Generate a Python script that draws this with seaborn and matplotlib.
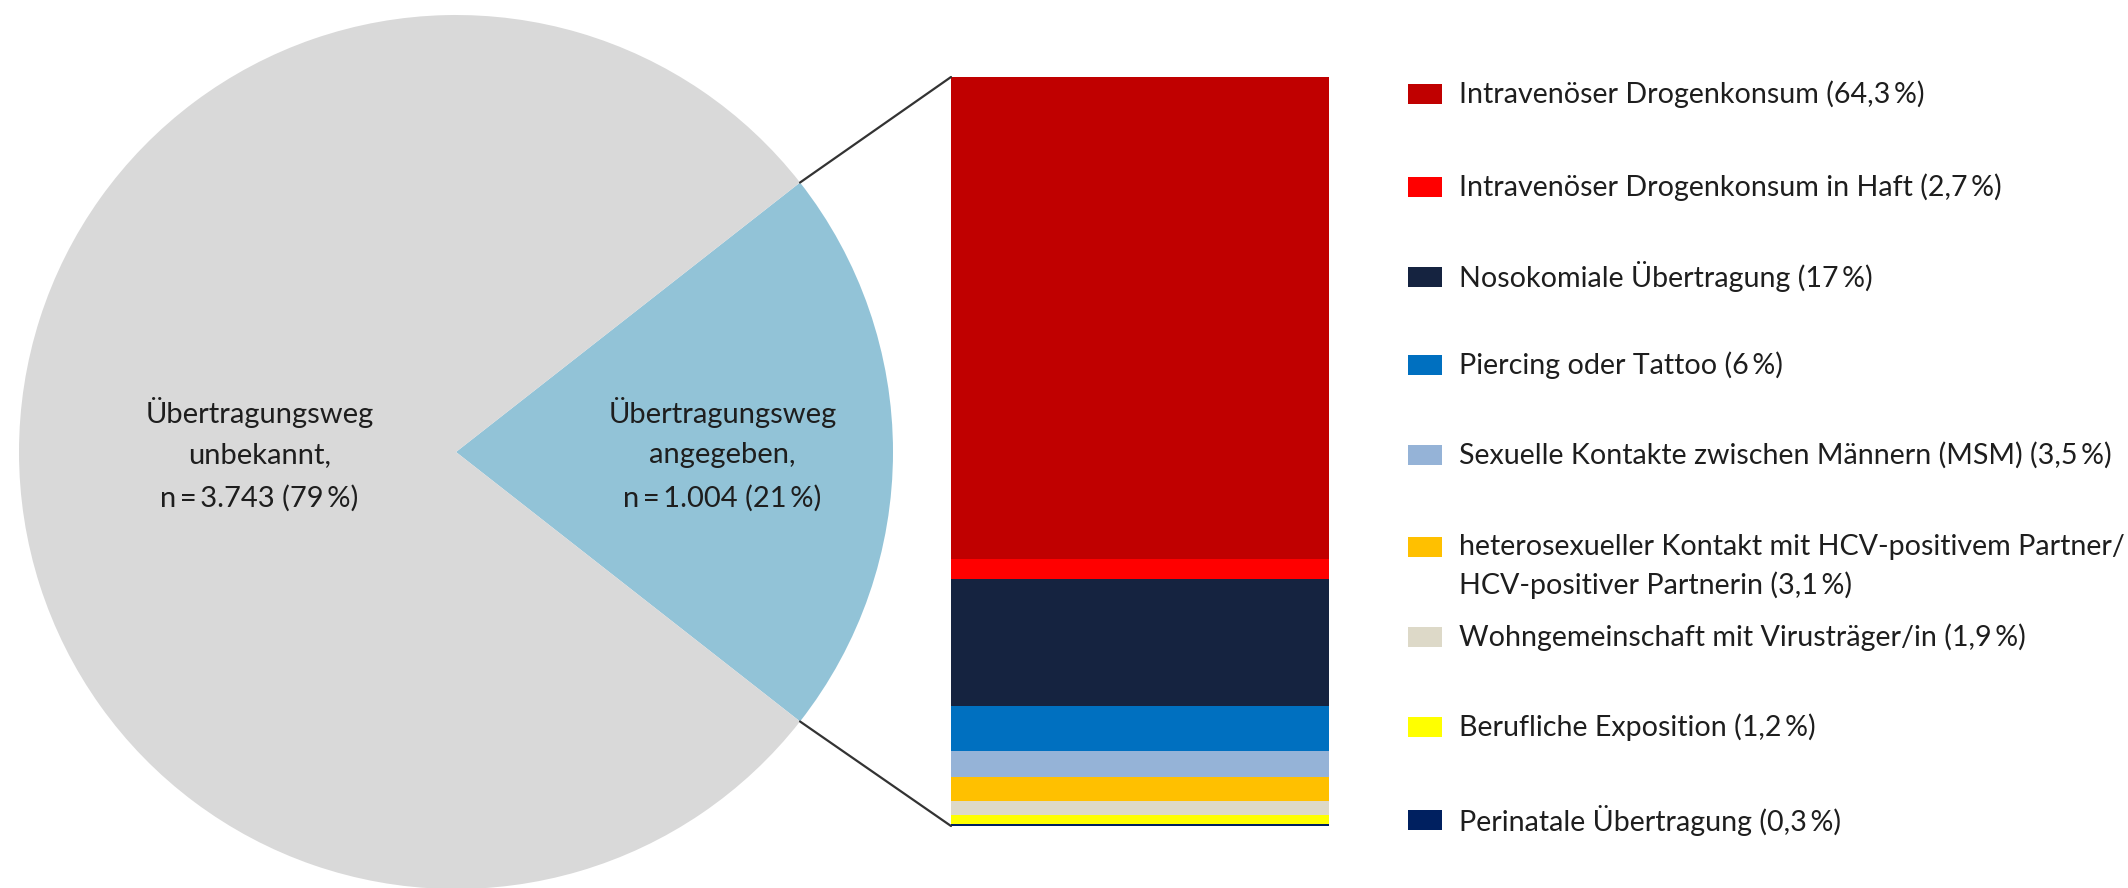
import matplotlib
matplotlib.use("Agg")
import numpy as np
import pandas as pd
import matplotlib.pyplot as plt
from matplotlib.patches import Rectangle, ConnectionPatch
import seaborn as sns

# Overall split of reported cases by whether the route of transmission is known
split_names = ["angegeben", "unbekannt"]
split_counts = [1004, 3743]
split_colors = ["#92C3D7", "#D9D9D9"]

# Breakdown of the cases with a stated route (percent), listed from the top of the bar down
route_names = [
    "Intravenöser Drogenkonsum",
    "Intravenöser Drogenkonsum in Haft",
    "Nosokomiale Übertragung",
    "Piercing oder Tattoo",
    "Sexuelle Kontakte zwischen Männern (MSM)",
    "heterosexueller Kontakt mit HCV-positivem Partner/\nHCV-positiver Partnerin",
    "Wohngemeinschaft mit Virusträger/in",
    "Berufliche Exposition",
    "Perinatale Übertragung",
]
route_shares = [64.3, 2.7, 17, 6, 3.5, 3.1, 1.9, 1.2, 0.3]
route_colors = [
    "#C00000", "#FF0000", "#152340", "#0070C0", "#95B3D7",
    "#FFC000", "#DDD9C8", "#FFFF00", "#002060",
]

W, H = 2128, 888
TEXT = "#1E1E1E"

sns.set_theme(style="white")
plt.rcParams["font.family"] = ["Lato", "DejaVu Sans"]


def pct(v):
    s = f"{v:.1f}".rstrip("0").rstrip(".")
    return s.replace(".", ",") + "\u2009%"


def n_fmt(n):
    return f"{n:,}".replace(",", ".")


fig = plt.figure(figsize=(W / 100, H / 100), dpi=100)

# ---- pie of known vs. unknown route ----
cx, cy, r = 456, 452, 437
ax_pie = fig.add_axes([(cx - r) / W, (H - cy - r) / H, 2 * r / W, 2 * r / H])
total = sum(split_counts)
half_angle = 180.0 * split_counts[0] / total
ax_pie.pie(split_counts, colors=split_colors, startangle=-half_angle,
           radius=1, wedgeprops=dict(linewidth=0))
ax_pie.set_xlim(-1, 1)
ax_pie.set_ylim(-1, 1)
ax_pie.set_aspect("equal")
ax_pie.axis("off")

share_known = round(100 * split_counts[0] / total)
share_unknown = 100 - share_known
pie_labels = [
    (0.61, ["Übertragungsweg", "angegeben,",
            f"n\u2009=\u2009{n_fmt(split_counts[0])} ({share_known}\u2009%)"]),
    (-0.45, ["Übertragungsweg", "unbekannt,",
             f"n\u2009=\u2009{n_fmt(split_counts[1])} ({share_unknown}\u2009%)"]),
]
pie_line_step = 43 / r
for lx, lines in pie_labels:
    for k, line in enumerate(lines):
        ax_pie.text(lx, -0.007 + (1 - k) * pie_line_step, line,
                    ha="center", va="center", fontsize=21, color=TEXT)

# ---- stacked bar of the stated routes ----
bx0, bx1, by0, by1 = 951, 1329, 77, 826
ax_bar = fig.add_axes([bx0 / W, (H - by1) / H, (bx1 - bx0) / W, (by1 - by0) / H])
cum_from_bottom = np.cumsum(route_shares[::-1])[::-1]
df = pd.DataFrame({"grp": ["x"] * len(route_names),
                   "route": route_names,
                   "cum": cum_from_bottom})
sns.barplot(data=df, x="grp", y="cum", hue="route", hue_order=route_names,
            palette=route_colors, dodge=False, saturation=1, width=1,
            errorbar=None, legend=False, linewidth=0, ax=ax_bar)
ax_bar.set_xlim(-0.5, 0.5)
ax_bar.set_ylim(0, cum_from_bottom[0])
ax_bar.axis("off")

# connector lines from the wedge edge to the bar corners
th = np.deg2rad(half_angle)
for sgn, yb in [(1, cum_from_bottom[0]), (-1, 0)]:
    con = ConnectionPatch(xyA=(np.cos(th), sgn * np.sin(th)), coordsA=ax_pie.transData,
                          xyB=(-0.5, yb), coordsB=ax_bar.transData,
                          color="#333333", lw=1.6)
    fig.add_artist(con)

# ---- legend ----
row_y = [94, 187, 277, 365, 455, 547, 637, 727, 820]
sq_x, sq_w, sq_h = 1408, 34, 20
txt_x = 1459
leg_size = 20.6
line_step = 38
for name, share, col, y in zip(route_names, route_shares, route_colors, row_y):
    fig.add_artist(Rectangle((sq_x / W, (H - y - sq_h / 2) / H), sq_w / W, sq_h / H,
                             transform=fig.transFigure, facecolor=col, edgecolor="none"))
    lines = f"{name} ({pct(share)})".split("\n")
    for k, line in enumerate(lines):
        fig.text(txt_x / W, (H - y - k * line_step) / H, line,
                 ha="left", va="center", fontsize=leg_size, color=TEXT)

fig.savefig("out.png", dpi=100, facecolor="white")
